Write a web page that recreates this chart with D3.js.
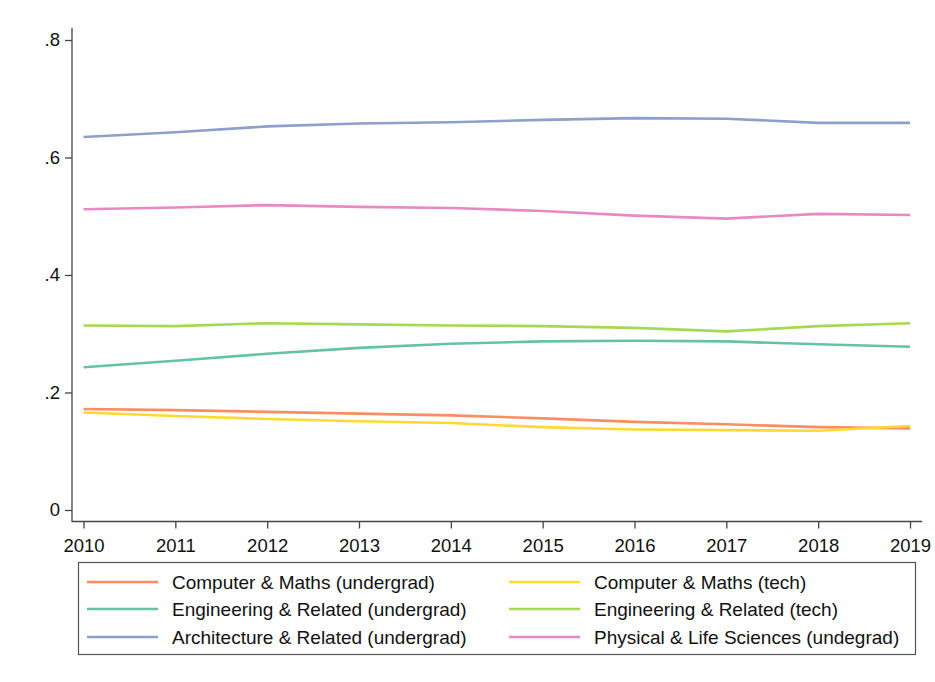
<!DOCTYPE html>
<html><head><meta charset="utf-8">
<script src="https://cdn.jsdelivr.net/npm/d3@7"></script>
<style>
body{margin:0;background:#fff;}
svg{display:block;font-family:"Liberation Sans",Arial,sans-serif;}
</style></head>
<body>
<svg id="c" width="935" height="682"></svg>
<script>
const years = [2010,2011,2012,2013,2014,2015,2016,2017,2018,2019];
const yTicks = [0,0.2,0.4,0.6,0.8];
const yTickLabels = ["0",".2",".4",".6",".8"];
const seriesNames = [
  "Computer & Maths (undergrad)",
  "Computer & Maths (tech)",
  "Engineering & Related (undergrad)",
  "Engineering & Related (tech)",
  "Architecture & Related (undergrad)",
  "Physical & Life Sciences (undegrad)"
];
const seriesColors = ["#fc8d62","#ffd92f","#66c2a5","#a6d854","#8da0cb","#e78ac3"];
const compMathsUG   = [0.172,0.170,0.167,0.164,0.161,0.156,0.150,0.146,0.141,0.139];
const compMathsTech = [0.166,0.160,0.155,0.151,0.148,0.141,0.137,0.136,0.135,0.143];
const engUG         = [0.243,0.254,0.266,0.276,0.283,0.287,0.288,0.287,0.282,0.278];
const engTech       = [0.314,0.313,0.318,0.316,0.314,0.313,0.310,0.304,0.313,0.318];
const archUG        = [0.635,0.643,0.653,0.658,0.660,0.664,0.667,0.666,0.659,0.659];
const physUG        = [0.512,0.515,0.519,0.516,0.514,0.509,0.501,0.496,0.504,0.502];
const seriesValues = [compMathsUG,compMathsTech,engUG,engTech,archUG,physUG];

const svg = d3.select("#c");
const x = d3.scaleLinear().domain([2010,2019]).range([83.5,910]);
const y = d3.scaleLinear().domain([0,0.8]).range([510,40]);
const axisColor = "#444";
const tickFont = "18.5px";

// y axis
const yAxisX = 72;
const yAx = svg.append("g").attr("transform",`translate(${yAxisX},0)`)
  .call(d3.axisLeft(y).tickValues(yTicks).tickFormat((d,i)=>yTickLabels[i]).tickSize(7).tickPadding(5));
yAx.select(".domain").remove();
yAx.append("line").attr("x1",0).attr("x2",0).attr("y1",28).attr("y2",522).attr("stroke",axisColor).attr("stroke-width",1.3);
yAx.selectAll(".tick line").attr("stroke",axisColor).attr("stroke-width",1.3);
yAx.selectAll(".tick text").attr("fill","#111").style("font-size",tickFont).style("font-family","'Liberation Sans',Arial,sans-serif");

// x axis
const xAxisY = 521.5;
const xAx = svg.append("g").attr("transform",`translate(0,${xAxisY})`)
  .call(d3.axisBottom(x).tickValues(years).tickFormat(d3.format("d")).tickSize(7).tickPadding(10.5));
xAx.select(".domain").remove();
xAx.append("line").attr("x1",yAxisX).attr("x2",922).attr("y1",0).attr("y2",0).attr("stroke",axisColor).attr("stroke-width",1.3);
xAx.selectAll(".tick line").attr("stroke",axisColor).attr("stroke-width",1.3);
xAx.selectAll(".tick text").attr("fill","#111").style("font-size",tickFont).style("font-family","'Liberation Sans',Arial,sans-serif");

// lines
const line = d3.line().x((d,i)=>x(years[i])).y(d=>y(d));
seriesValues.forEach((vals,k)=>{
  svg.append("path").datum(vals).attr("d",line)
    .attr("fill","none").attr("stroke",seriesColors[k]).attr("stroke-width",2.6)
    .attr("stroke-linejoin","round");
});

// legend
const lg = svg.append("g");
lg.append("rect").attr("x",78.5).attr("y",562.5).attr("width",837).attr("height",92)
  .attr("fill","#fff").attr("stroke","#555").attr("stroke-width",1.2);
const rowY = [582,609,637];
const colLineX = [[87,158],[509,580]];
const colTextX = [172,594];
seriesNames.forEach((name,k)=>{
  const col = k%2, row = Math.floor(k/2);
  lg.append("line").attr("x1",colLineX[col][0]).attr("x2",colLineX[col][1])
    .attr("y1",rowY[row]).attr("y2",rowY[row]).attr("stroke",seriesColors[k]).attr("stroke-width",2.6);
  lg.append("text").attr("x",colTextX[col]).attr("y",rowY[row]).attr("dy","0.36em")
    .attr("fill","#111").style("font-size","19px").text(name);
});
</script>
</body></html>
